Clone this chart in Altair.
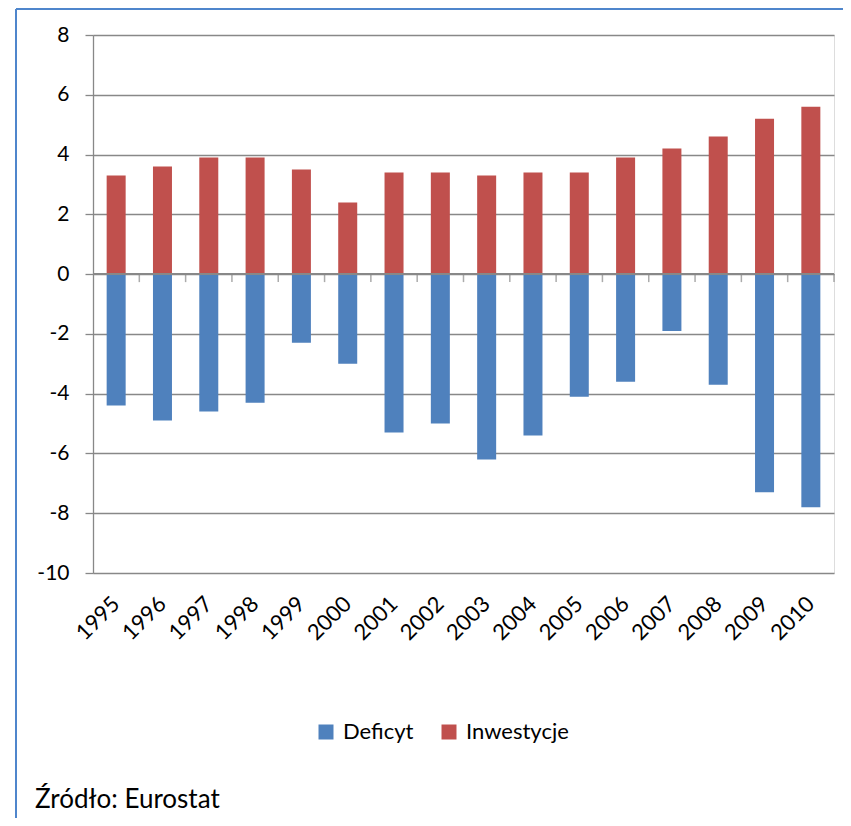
import altair as alt
import pandas as pd

years = [str(y) for y in range(1995, 2011)]
deficyt = [-4.4, -4.9, -4.6, -4.3, -2.3, -3.0, -5.3, -5.0, -6.2, -5.4, -4.1, -3.6, -1.9, -3.7, -7.3, -7.8]
inwestycje = [3.3, 3.6, 3.9, 3.9, 3.5, 2.4, 3.4, 3.4, 3.3, 3.4, 3.4, 3.9, 4.2, 4.6, 5.2, 5.6]
series_names = ["Deficyt", "Inwestycje"]
series_colors = ["#4F81BD", "#C0504D"]
y_ticks = [-10, -8, -6, -4, -2, 0, 2, 4, 6, 8]
source_text = "Źródło: Eurostat"

rows = []
for yr, d, i in zip(years, deficyt, inwestycje):
    rows.append({"year": yr, "series": "Deficyt", "value": d})
    rows.append({"year": yr, "series": "Inwestycje", "value": i})
df = pd.DataFrame(rows)
df_years = pd.DataFrame({"year": years})

FONT = "Lato"
GRID = "#888888"

x_scale = alt.Scale(domain=years, paddingInner=0, paddingOuter=0)

y_enc = alt.Y(
    "value:Q",
    scale=alt.Scale(domain=[-10, 8], nice=False, zero=False),
    axis=alt.Axis(
        values=y_ticks, title=None, grid=True, gridColor=GRID, gridWidth=1.3,
        domain=True, domainColor=GRID, domainWidth=1.3,
        ticks=True, tickColor=GRID, tickSize=8, tickWidth=1.3,
        labelFontSize=21, labelColor="#000000", labelPadding=16, labelFont=FONT,
        labelExpr="'' + datum.value",
    ),
)

bars = alt.Chart(df).mark_bar(size=19).encode(
    x=alt.X(
        "year:N", scale=x_scale,
        axis=alt.Axis(
            title=None, labelAngle=-45, labelFontSize=22, labelColor="#000000",
            labelFont=FONT, ticks=False, domain=False, grid=False, labelPadding=27,
            labelAlign="right", labelBaseline="middle",
        ),
    ),
    y=y_enc,
    color=alt.Color(
        "series:N",
        scale=alt.Scale(domain=series_names, range=series_colors),
        legend=alt.Legend(
            title=None, orient="none", direction="horizontal",
            legendX=222, legendY=686, symbolType="square", symbolSize=225,
            symbolStrokeWidth=0, labelFontSize=22, labelFont=FONT,
            labelColor="#000000", labelOffset=6, columnPadding=24,
        ),
    ),
)

zero_line = alt.Chart(df_years).mark_rule(color=GRID, strokeWidth=1.3).encode(
    y=alt.datum(0)
)

zero_ticks = alt.Chart(df_years).mark_tick(
    color=GRID, thickness=1.5, size=8, orient="vertical", yOffset=4, xOffset=23.15
).encode(
    x=alt.X("year:N", scale=x_scale),
    y=alt.datum(0),
)

src = alt.Chart(pd.DataFrame({"t": [source_text]})).mark_text(
    align="left", baseline="alphabetic", fontSize=26, font=FONT, color="#000000"
).encode(text="t:N", x=alt.value(-58), y=alt.value(773))

frame_left = alt.Chart(pd.DataFrame({"t": [0]})).mark_rule(
    color="#4F86CC", strokeWidth=2
).encode(x=alt.value(-77), y=alt.value(-26), y2=alt.value(790))
frame_top = alt.Chart(pd.DataFrame({"t": [0]})).mark_rule(
    color="#4F86CC", strokeWidth=2
).encode(x=alt.value(-77), x2=alt.value(760), y=alt.value(-26))

chart = alt.layer(bars, zero_line, zero_ticks, src, frame_left, frame_top).properties(
    width=741, height=538,
    autosize=alt.AutoSizeParams(type="none"),
    padding={"left": 85, "top": 27, "right": 9, "bottom": 245},
).configure_view(stroke=None).configure(font=FONT)

chart.save("out.html", embed_options={"renderer": "svg", "actions": False})
